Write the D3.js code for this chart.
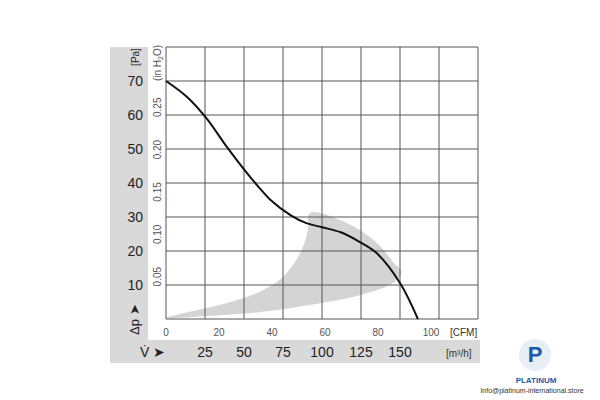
<!DOCTYPE html>
<html><head><meta charset="utf-8">
<script src="https://cdn.jsdelivr.net/npm/d3@7"></script>
<style>body{margin:0;background:#fff}text{font-family:"Liberation Sans",Arial,sans-serif}</style>
</head><body><svg id="c" width="600" height="400"></svg>
<script>
// data in m3/h and Pa
var paTicks = [10, 20, 30, 40, 50, 60, 70];
var inTicks = [0.05, 0.10, 0.15, 0.20, 0.25];
var cfmTicks = [0, 20, 40, 60, 80, 100];
var m3Ticks = [25, 50, 75, 100, 125, 150];
var curveFlow = [0, 13.5, 26, 39, 50, 60, 67, 80, 90, 100, 112, 124, 135, 150, 161.5];
var curvePa = [70, 65.3, 59, 50.6, 44, 38.5, 35, 30.5, 28.2, 27, 25.5, 22.7, 19.4, 10.6, 0];
var shadeFlow = [0, 39, 60, 74, 83, 88.5, 91, 92.3, 116, 135, 145.5, 151, 145.5, 124, 92, 60, 17];
var shadePa = [0.3, 4.7, 8, 12, 17, 22, 26.5, 31.2, 28.2, 22.4, 16.8, 13.8, 10.6, 7, 4.1, 2, 0.6];

var svg = d3.select('#c');
var x = d3.scaleLinear().domain([0, 200]).range([166, 478]);
var y = d3.scaleLinear().domain([0, 80]).range([319, 47]);
var grey = '#d9d9d9';

svg.append('rect').attr('x', 110).attr('y', 47).attr('width', 38).attr('height', 316).attr('fill', grey);
svg.append('rect').attr('x', 110).attr('y', 340).attr('width', 370).attr('height', 23).attr('fill', grey);

// shaded operating region
svg.append('path')
  .datum(d3.zip(shadeFlow, shadePa))
  .attr('d', d3.line().x(d => x(d[0])).y(d => y(d[1])).curve(d3.curveCatmullRomClosed.alpha(0.5)))
  .attr('fill', '#d4d4d4');

// grid
var g = svg.append('g').attr('stroke', '#555').attr('stroke-width', 1);
d3.range(0, 201, 25).forEach(function(v){
  g.append('line').attr('x1', x(v)).attr('x2', x(v)).attr('y1', y(80)).attr('y2', y(0));
});
d3.range(0, 81, 10).forEach(function(v){
  g.append('line').attr('x1', x(0)).attr('x2', x(200)).attr('y1', y(v)).attr('y2', y(v));
});

// curve
svg.append('path')
  .datum(d3.zip(curveFlow, curvePa))
  .attr('d', d3.line().x(d => x(d[0])).y(d => y(d[1])).curve(d3.curveCatmullRom))
  .attr('fill', 'none').attr('stroke', '#111').attr('stroke-width', 2);

// Pa labels
svg.selectAll('.pa').data(paTicks).enter().append('text')
  .attr('x', 143).attr('y', d => y(d) + 5).attr('text-anchor', 'end')
  .attr('font-size', 14).attr('fill', '#222').text(d => d);
svg.append('text').attr('transform', 'translate(139,57) rotate(-90)')
  .attr('font-size', 10).attr('fill', '#222').attr('text-anchor', 'middle').text('[Pa]');
svg.append('text').attr('transform', 'translate(139,335) rotate(-90)')
  .attr('font-size', 13).attr('fill', '#222').text('\u0394p \u27A4');

// inH2O labels
var paPerIn = 249.09;
svg.selectAll('.in').data(inTicks).enter().append('text')
  .attr('transform', d => 'translate(161,' + y(d * paPerIn) + ') rotate(-90)')
  .attr('text-anchor', 'middle').attr('font-size', 10).attr('fill', '#555')
  .text(d => d.toFixed(2));
var t = svg.append('text').attr('transform', 'translate(161,63) rotate(-90)')
  .attr('text-anchor', 'middle').attr('font-size', 10).attr('fill', '#555');
t.append('tspan').text('(in H');
t.append('tspan').attr('font-size', 7).attr('dy', 2).text('2');
t.append('tspan').attr('dy', -2).text('O)');

// CFM labels
svg.selectAll('.cfm').data(cfmTicks).enter().append('text')
  .attr('x', d => x(d * 1.699)).attr('y', 336).attr('text-anchor', 'middle')
  .attr('font-size', 10).attr('fill', '#555').text(d => d);
svg.append('text').attr('x', 450).attr('y', 336).attr('font-size', 10).attr('fill', '#333').text('[CFM]');

// m3/h labels
svg.selectAll('.m3').data(m3Ticks).enter().append('text')
  .attr('x', d => x(d)).attr('y', 357).attr('text-anchor', 'middle')
  .attr('font-size', 14).attr('fill', '#222').text(d => d);
svg.append('text').attr('x', 446).attr('y', 357).attr('font-size', 10).attr('fill', '#333').text('[m\u00B3/h]');
svg.append('text').attr('x', 140).attr('y', 357).attr('font-size', 14).attr('fill', '#222').text('V\u0307 \u27A4');

// watermark
svg.append('circle').attr('cx', 535).attr('cy', 355).attr('r', 16).attr('fill', '#e8eef6');
svg.append('text').attr('x', 535).attr('y', 362).attr('text-anchor', 'middle')
  .attr('font-size', 22).attr('font-weight', 'bold').attr('fill', '#1a5aa8').text('P');
svg.append('text').attr('x', 536).attr('y', 383).attr('text-anchor', 'middle')
  .attr('font-size', 8).attr('font-weight', 'bold').attr('fill', '#1a5aa8').text('PLATINUM');
svg.append('text').attr('x', 532).attr('y', 393).attr('text-anchor', 'middle')
  .attr('font-size', 7).attr('fill', '#333').text('Info@platinum-international.store');
</script></body></html>
